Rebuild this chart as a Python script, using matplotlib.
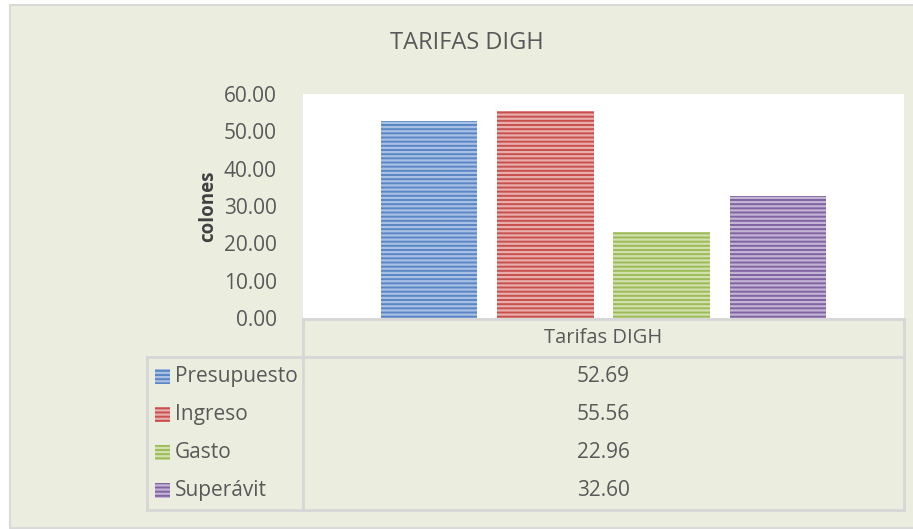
import numpy as np
import matplotlib.pyplot as plt
from matplotlib.patches import Rectangle

plt.rcParams['font.family'] = ['Open Sans', 'DejaVu Sans']
plt.rcParams['hatch.linewidth'] = 1.6

title = "TARIFAS DIGH"
category = "Tarifas DIGH"
series = ["Presupuesto", "Ingreso", "Gasto", "Superávit"]
values = [52.69, 55.56, 22.96, 32.60]
base_colors = ["#5A86C5", "#C8504C", "#9CBB58", "#8163A2"]
stripe_colors = ["#A8C0E3", "#E8AEAC", "#D2E0AE", "#C3B4D6"]
yticks = [0, 10, 20, 30, 40, 50, 60]

W, H = 913, 529
txt = "#595959"
grid = "#D6D6D6"

def fx(px):
    return px / W

def fy(py):
    return 1 - py / H

fig = plt.figure(figsize=(W / 100, H / 100), dpi=100)
fig.patch.set_facecolor("white")
# chart area background with border
fig.patches.append(Rectangle((fx(10), fy(528)), fx(W + 10) - fx(10), fy(5) - fy(528),
                             transform=fig.transFigure, facecolor="#EBEEDF",
                             edgecolor="#D9D9D9", linewidth=1.5, zorder=-5))

ax = fig.add_axes([fx(303), fy(318), fx(904) - fx(303), fy(94) - fy(318)])
ax.set_facecolor("white")

n = len(series)
step = 0.1935
width = 0.161
offsets = (np.arange(n) - (n - 1) / 2) * step
for i in range(n):
    ax.bar(offsets[i], values[i], width=width, color=base_colors[i],
           edgecolor=stripe_colors[i], linewidth=0, hatch="----", zorder=2)

ax.set_xlim(-0.5, 0.5)
ax.set_ylim(0, 60)
ax.set_yticks(yticks)
ax.set_yticklabels([f"{v:.2f}" for v in yticks], fontsize=15, color=txt)
ax.set_xticks([])
ax.tick_params(axis="y", length=0, pad=19)
for s in ax.spines.values():
    s.set_visible(False)
ax.set_ylabel("colones", fontsize=13.5, fontweight="bold", color="#404040", labelpad=4)

fig.text(fx(467), fy(43), title, ha="center", va="center", fontsize=17, color=txt)

# data table below the plot
top, head_bot, bot = 319, 357, 510
left, mid, right = 147, 303, 904
row_h = (bot - head_bot) / n
lines = [
    ((mid, right), (top, top)),
    ((left, right), (head_bot, head_bot)),
    ((left, right), (bot, bot)),
    ((mid, mid), (top, bot)),
    ((right, right), (top, bot)),
    ((left, left), (head_bot, bot)),
]
for xs, ys in lines:
    fig.add_artist(plt.Line2D([fx(x) for x in xs], [fy(y) for y in ys],
                              transform=fig.transFigure, color=grid, linewidth=2))

fig.text(fx((mid + right) / 2), fy((top + head_bot) / 2), category,
         ha="center", va="center", fontsize=14.5, color=txt)

for i in range(n):
    cy = head_bot + row_h * (i + 0.5)
    fig.patches.append(Rectangle((fx(155), fy(cy + 7.5)), fx(15), fy(0) - fy(15),
                                 transform=fig.transFigure, facecolor=base_colors[i],
                                 edgecolor=stripe_colors[i], linewidth=0, hatch="----"))
    fig.text(fx(175), fy(cy), series[i], ha="left", va="center", fontsize=15, color=txt)
    fig.text(fx((mid + right) / 2), fy(cy), f"{values[i]:.2f}",
             ha="center", va="center", fontsize=15, color=txt)

fig.savefig("out.png", dpi=100)
